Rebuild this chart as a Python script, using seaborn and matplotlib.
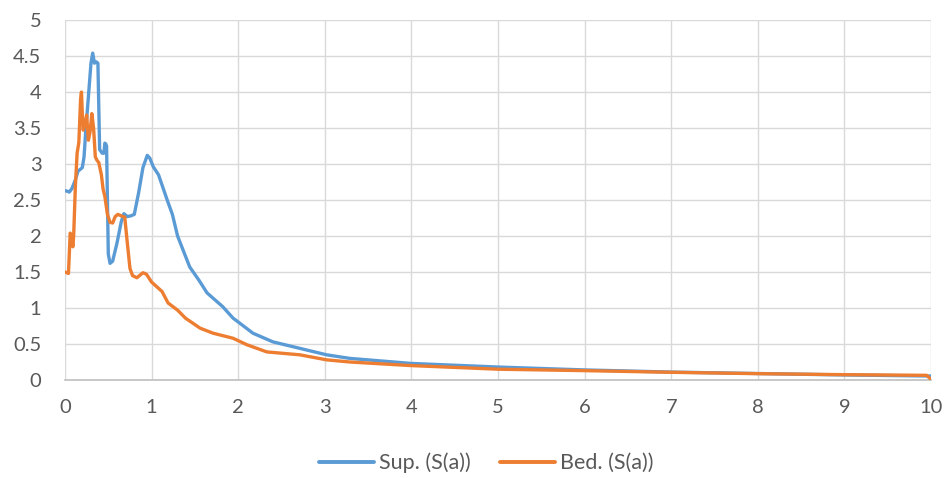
import matplotlib
matplotlib.use("Agg")
import matplotlib.pyplot as plt
import seaborn as sns
import pandas as pd
from matplotlib.lines import Line2D

sup_x = [0, 0.03, 0.05, 0.08, 0.12, 0.15, 0.17, 0.2, 0.22, 0.24, 0.27, 0.3, 0.32, 0.34, 0.36,
         0.38, 0.4, 0.43, 0.45, 0.46, 0.47, 0.48, 0.5, 0.52, 0.55, 0.6, 0.65, 0.68, 0.72, 0.76,
         0.8, 0.85, 0.9, 0.95, 0.98, 1.02, 1.08, 1.18, 1.24, 1.3, 1.44, 1.55, 1.64, 1.82, 1.94,
         2.05, 2.17, 2.4, 2.71, 3.02, 3.29, 4, 5, 6, 7, 8, 9, 10]
sup_y = [2.63, 2.62, 2.61, 2.66, 2.78, 2.9, 2.92, 2.95, 3.1, 3.47, 3.93, 4.4, 4.54, 4.4, 4.42,
         4.4, 3.2, 3.15, 3.15, 3.29, 3.28, 3.25, 1.75, 1.62, 1.65, 1.9, 2.2, 2.31, 2.27, 2.28,
         2.3, 2.6, 2.95, 3.12, 3.08, 2.96, 2.85, 2.5, 2.3, 2.0, 1.57, 1.38, 1.21, 1.02, 0.86,
         0.76, 0.65, 0.53, 0.44, 0.35, 0.3, 0.23, 0.18, 0.14, 0.11, 0.09, 0.07, 0.055]

bed_x = [0, 0.04, 0.06, 0.08, 0.09, 0.1, 0.12, 0.14, 0.16, 0.18, 0.19, 0.2, 0.21, 0.23, 0.25,
         0.26, 0.27, 0.29, 0.31, 0.33, 0.35, 0.37, 0.39, 0.42, 0.44, 0.46, 0.49, 0.52, 0.55,
         0.58, 0.61, 0.65, 0.69, 0.72, 0.75, 0.78, 0.83, 0.9, 0.94, 1.0, 1.12, 1.19, 1.3, 1.39,
         1.56, 1.71, 1.94, 2.1, 2.33, 2.71, 3.02, 3.29, 4, 5, 6, 7, 8, 9, 9.95, 10]
bed_y = [1.5, 1.48, 2.04, 2.0, 1.85, 2.0, 2.7, 3.15, 3.3, 3.9, 4.0, 3.7, 3.47, 3.55, 3.68,
         3.5, 3.33, 3.45, 3.7, 3.5, 3.1, 3.05, 3.02, 2.85, 2.65, 2.55, 2.3, 2.19, 2.18,
         2.27, 2.3, 2.28, 2.26, 1.9, 1.55, 1.45, 1.42, 1.49, 1.47, 1.36, 1.23, 1.07, 0.97, 0.86,
         0.72, 0.65, 0.58, 0.49, 0.39, 0.35, 0.28, 0.25, 0.2, 0.15, 0.13, 0.107, 0.088, 0.074, 0.065, 0.01]

series_names = ["Sup. (S(a))", "Bed. (S(a))"]
x_ticks = [0, 1, 2, 3, 4, 5, 6, 7, 8, 9, 10]
y_ticks = [0, 0.5, 1, 1.5, 2, 2.5, 3, 3.5, 4, 4.5, 5]
y_labels = ["0", "0.5", "1", "1.5", "2", "2.5", "3", "3.5", "4", "4.5", "5"]

df = pd.concat([
    pd.DataFrame({"T": sup_x, "S": sup_y, "series": series_names[0]}),
    pd.DataFrame({"T": bed_x, "S": bed_y, "series": series_names[1]}),
], ignore_index=True)

sns.set_theme(style="white")
plt.rcParams["font.family"] = ["Lato", "DejaVu Sans"]

fig = plt.figure(figsize=(9.52, 4.78), dpi=100)
ax = fig.add_axes([65 / 952, 1 - 380 / 478, (931 - 65) / 952, (380 - 20) / 478])

palette = {series_names[0]: "#5B9BD5", series_names[1]: "#ED7D31"}
sns.lineplot(data=df, x="T", y="S", hue="series", palette=palette, estimator=None,
             sort=False, linewidth=2.4, ax=ax, legend=False, zorder=3)

ax.set_xlim(0, 10)
ax.set_ylim(0, 5)
ax.set_xticks(x_ticks)
ax.set_xticklabels([str(t) for t in x_ticks])
ax.set_yticks(y_ticks)
ax.set_yticklabels(y_labels)
ax.grid(True, color="#D9D9D9", linewidth=1.0)
ax.set_axisbelow(True)
for s in ["top", "right", "left"]:
    ax.spines[s].set_visible(False)
ax.spines["bottom"].set_color("#BFBFBF")
ax.spines["bottom"].set_linewidth(1.2)
ax.tick_params(axis="both", length=0, labelsize=14.5, labelcolor="#595959")
ax.tick_params(axis="y", pad=17)
ax.tick_params(axis="x", pad=14)
ax.set_xlabel("")
ax.set_ylabel("")

handles = [Line2D([0], [0], color=palette[n], linewidth=2.8) for n in series_names]
fig.legend(handles, series_names, loc="center", bbox_to_anchor=(0.511, 1 - 463 / 478),
           ncol=2, frameon=False, fontsize=15.5, labelcolor="#595959", handlelength=2.55,
           handletextpad=0.25, columnspacing=1.35)

fig.savefig("out.png", dpi=100)
